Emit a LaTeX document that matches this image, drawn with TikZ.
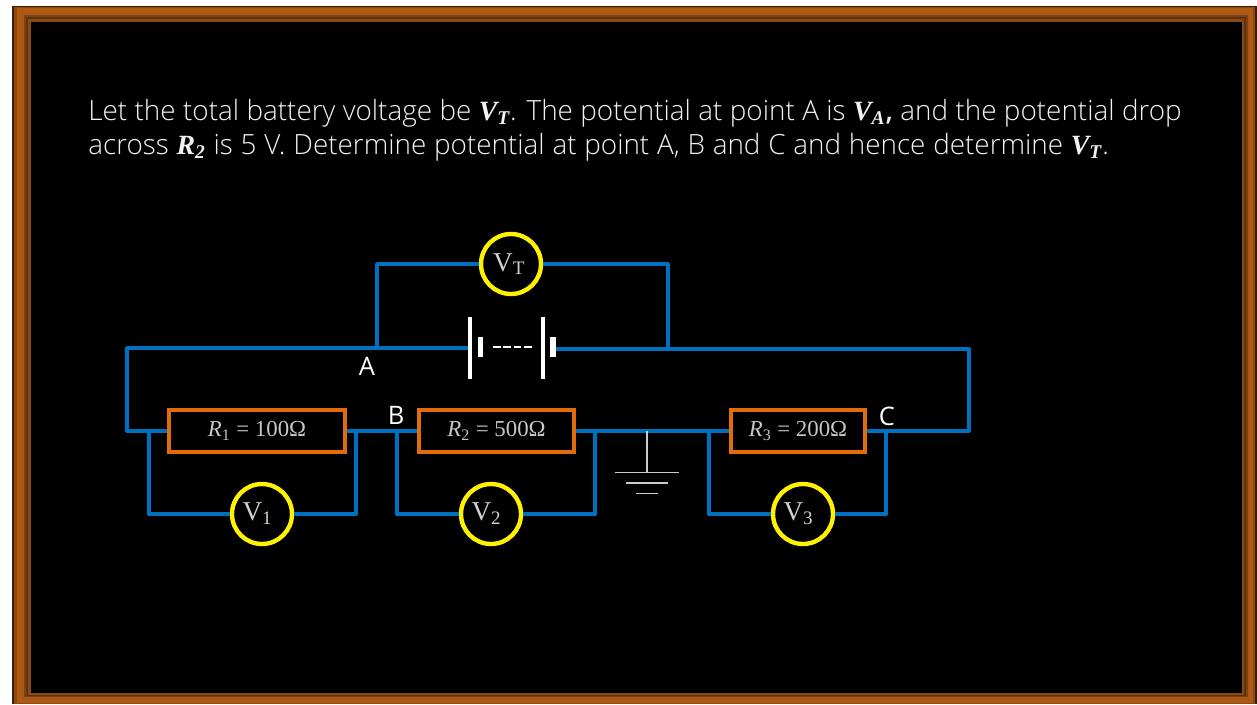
\documentclass[tikz,border=0pt]{standalone}
\usepackage{amsmath}
\usepackage{amssymb}
\usepackage{fontspec}
\setmainfont{Open Sans Light}
\newfontfamily\labelfont{Open Sans}
\newfontfamily\mathsfont{Liberation Serif}
\newcommand{\qvar}[2]{{\mathsfont\bfseries\itshape #1\textsubscript{#2}}}
\usetikzlibrary{positioning}

\begin{document}
\begin{tikzpicture}[
        x=0.02cm, y=-0.02cm,
        wire/.style={draw={rgb,255:red,0;green,112;blue,192}, line width=2.2pt, line join=round},
        plate/.style={draw=white, line width=1.8pt},
        cell/.style={draw=white, line width=3pt},
        earth/.style={draw=white!80!black, line width=0.9pt},
        resistor/.style={draw={rgb,255:red,227;green,108;blue,10}, line width=2.2pt, minimum height=0.84cm, text=white!78!black, font=\mathsfont\fontsize{13}{15}\selectfont},
        meter/.style={circle, draw=yellow, fill=black, line width=2.5pt, minimum size=1.2cm, inner sep=0pt, text=white!82!black, font=\mathsfont\fontsize{15.5}{18}\selectfont},
        point/.style={text=white, font=\labelfont\fontsize{14.5}{17}\selectfont, inner sep=0pt},
        question/.style={anchor=base west, text=white!95!black, inner sep=0pt, font=\fontsize{15.85}{19}\selectfont}
    ]
    \useasboundingbox (0,0) rectangle (1257,704);
    \fill[white] (0,0) rectangle (1257,704);

    % wooden frame
    \foreach \xa/\ya/\xb/\yb/\shade in {12/6/1257/704/3A1F08, 14/6.5/1255/703.5/8A4A12, 17/8/1253/703/B0590F, 22/13/1250/700/A9581A, 24/15/1248/697/7A4314, 26/17/1246/696/5C3210, 28/19/1244/695/8A4A12, 31/22/1242/693/000000} {
        \definecolor{band}{HTML}{\shade}
        \fill[band] (\xa,\ya) rectangle (\xb,\yb);
    }

    % question
    \node[question] (line1) at (88,120) {\spaceskip=4.22pt Let the total battery voltage be \qvar{V}{T}. The potential at point A is \qvar{V}{A}\textbf{,} and the potential drop};
    \node[question] (line2) at (88,154) {\spaceskip=4.42pt across \qvar{R}{2} is 5 V. Determine potential at point A, B and C and hence determine \qvar{V}{T}.};

    % resistors
    \node[resistor, minimum width=3.52cm] (R1) at (257,431) {\textit{R}\textsubscript{1} = 100Ω};
    \node[resistor, minimum width=3.1cm] (R2) at (496.5,431) {\textit{R}\textsubscript{2} = 500Ω};
    \node[resistor, minimum width=2.68cm] (R3) at (798,431) {\textit{R}\textsubscript{3} = 200Ω};

    % voltmeters
    \node[meter] (VT) at (511,264) {\hspace{-2pt}V\textsubscript{T}};
    \node[meter] (V1) at (262,514) {\hspace{-5pt}V\textsubscript{1}};
    \node[meter] (V2) at (491,514) {\hspace{-5pt}V\textsubscript{2}};
    \node[meter] (V3) at (803,514) {\hspace{-5pt}V\textsubscript{3}};

    % junctions
    \coordinate (A) at (377,348);
    \coordinate (D) at (668,349);
    \coordinate (left) at (127,348);
    \coordinate (right) at (969,349);
    \coordinate (J1) at (149,431);
    \coordinate (J2) at (356,431);
    \coordinate (J3) at (397,431);
    \coordinate (J4) at (595,431);
    \coordinate (J5) at (709,431);
    \coordinate (J6) at (886,431);
    \coordinate (G) at (647,431);

    % outer loop
    \coordinate (P1) at (469,348);
    \coordinate (P2) at (555,349);
    \draw[wire] (R1.west) -| (left) -- (P1);
    \draw[wire] (P2) -- (right) |- (R3.east);
    \draw[wire] (R1.east) -- (R2.west);
    \draw[wire] (R2.east) -- (R3.west);

    % battery
    \draw[plate] (470,317) -- (470,379);
    \draw[cell] (480.5,337) -- (480.5,357);
    \draw[plate, line width=1.3pt, dash pattern=on 4.27pt off 1.7pt] (493,347) -- (532,347);
    \draw[plate] (543,317) -- (543,379);
    \draw[cell] (553,337) -- (553,357);

    % voltmeter branches
    \draw[wire] (A) |- (VT.west);
    \draw[wire] (D) |- (VT.east);
    \draw[wire] (J1) |- (V1.west);
    \draw[wire] (J2) |- (V1.east);
    \draw[wire] (J3) |- (V2.west);
    \draw[wire] (J4) |- (V2.east);
    \draw[wire] (J5) |- (V3.west);
    \draw[wire] (J6) |- (V3.east);

    % ground
    \coordinate (G1) at (647,472.5);
    \draw[earth] (G) -- (G1);
    \draw[earth] (615,472.5) -- (679,472.5);
    \draw[earth] (626,483) -- (668,483);
    \draw[earth] (636,493.5) -- (658,493.5);

    % point labels
    \node[point] (labelA) at (367,366) {A};
    \node[point] (labelB) at (396,415) {B};
    \node[point] (labelC) at (887,416) {C};
\end{tikzpicture}
\end{document}
